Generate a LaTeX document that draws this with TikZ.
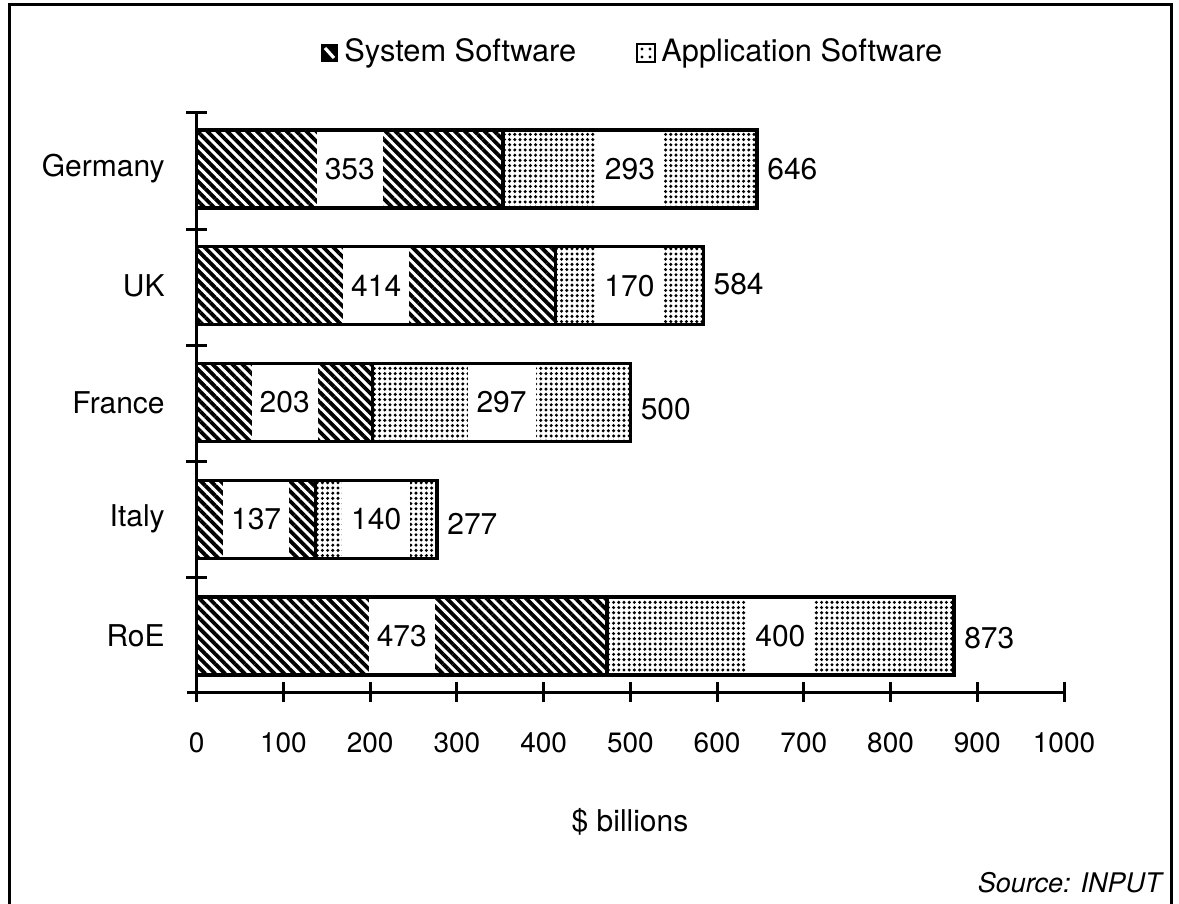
\documentclass[tikz,border=0pt]{standalone}
\usepackage{fontspec}
\setmainfont{TeX Gyre Heros}
\usetikzlibrary{patterns.meta}
\begin{document}
\begin{tikzpicture}[x=0.5pt,y=-0.5pt,
  sysfill/.style={pattern={Lines[angle=-45,distance=3.5pt,line width=1.9pt]},pattern color=black},
  appfill/.style={pattern={Dots[distance=2.6pt,radius=0.85pt]},pattern color=black},
  barline/.style={draw=black,line width=1.7pt},
  axisline/.style={line width=1.5pt},
  lbl/.style={font=\fontsize{15}{18}\selectfont,inner sep=0pt},
  leglbl/.style={font=\fontsize{15.4}{18}\selectfont,inner sep=0pt},
  ticklbl/.style={font=\fontsize{14}{17}\selectfont,inner sep=0pt},
  srclbl/.style={font=\fontsize{13.5}{16}\selectfont\itshape,inner sep=0pt}
]
\useasboundingbox[fill=white] (0,0) rectangle (1179,904);
% frame
\draw[line width=1.5pt] (9.3,930) -- (9.3,5) -- (1171.7,5) -- (1171.7,930);
% legend
\fill[black] (321,44) rectangle (338,62);
\draw[white,line width=1.6pt] (325,48) -- (334,58);
\fill[white] (637,44) rectangle (655,62);
\foreach \dx in {642,650} \foreach \dyy in {49,57} \fill (\dx,\dyy) circle[radius=1.6];
\draw[line width=1.2pt] (637,44) rectangle (655,62);
\node[leglbl,anchor=west] (legsys) at (344,53) {System Software};
\node[leglbl,anchor=west] (legapp) at (661,53) {Application Software};
% bars
\foreach \name/\s/\a/\t/\dy [count=\i from 0] in
  {Germany/353/293/646/0, UK/414/170/584/-2, France/203/297/500/7, Italy/137/140/277/5, RoE/473/400/873/2}{
  \pgfmathsetmacro\top{130+116.75*\i}
  \pgfmathsetmacro\bot{\top+78}
  \pgfmathsetmacro\mid{\top+39}
  \pgfmathsetmacro\xs{196.7+0.8673*\s}
  \pgfmathsetmacro\xt{196.7+0.8673*\t}
  \pgfmathsetmacro\cs{(196.7+\xs)/2}
  \pgfmathsetmacro\ca{(\xs+\xt)/2}
  \fill[sysfill] (196.7,\top) rectangle (\xs,\bot);
  \fill[appfill] (\xs,\top) rectangle (\xt,\bot);
  \fill[white] ({\cs-33},\top) rectangle ({\cs+33},\bot);
  \fill[white] ({\ca-34},\top) rectangle ({\ca+34},\bot);
  \node[lbl] (s\i) at (\cs,\mid) {\s};
  \node[lbl] (a\i) at (\ca,\mid) {\a};
  \draw[barline] (196.7,\top) rectangle (\xt,\bot);
  \draw[barline] (\xs,\top) -- (\xs,\bot);
  \node[lbl,anchor=west] (t\i) at ({\xt+10},{\mid+\dy}) {\t};
  \node[lbl,anchor=east] (n\i) at (165,\mid) {\name};
}
% axes
\draw[axisline] (196.7,113) -- (196.7,702);
\foreach \k in {0,...,4} \draw[axisline] (186,{113+116*\k}) -- (207,{113+116*\k});
\draw[axisline] (187,692) -- (1064,692);
\foreach \k in {0,...,10}{
  \draw[axisline] ({196.7+86.73*\k},682) -- ({196.7+86.73*\k},702);
  \node[ticklbl] (x\k) at ({196.7+86.73*\k},743) {\the\numexpr\k*100\relax};
}
\node[lbl] (unit) at (630,822) {\$ billions};
\node[srclbl,anchor=east] (src) at (1162,883) {Source: INPUT};
\end{tikzpicture}
\end{document}
